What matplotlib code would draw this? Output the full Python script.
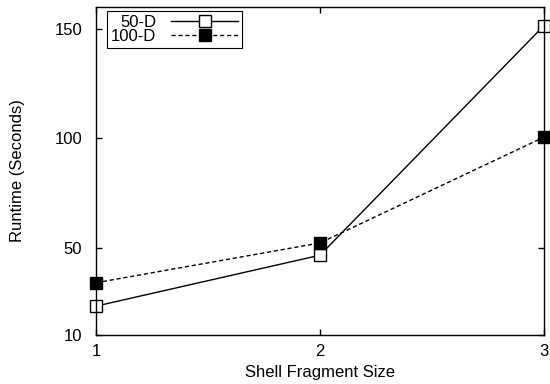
import matplotlib
matplotlib.use("Agg")
import matplotlib.pyplot as plt

x = [1, 2, 3]
series_50d = [23.2, 46.5, 151.5]
series_100d = [33.9, 52.1, 100.5]
yticks = [10, 50, 100, 150]
xticks = [1, 2, 3]

plt.rcParams['font.family'] = ['Liberation Sans', 'DejaVu Sans']
fig = plt.figure(figsize=(5.5, 3.84), dpi=100)
ax = fig.add_axes([96/550, 1-335/384, 448/550, 328/384])

ax.plot(x, series_50d, color='black', lw=1.0, marker='s', ms=8.5,
        mfc='white', mec='black', mew=1.0, label='50-D', clip_on=False)
ax.plot(x, series_100d, color='black', lw=1.0, ls=(0, (3, 2)), marker='s', ms=8.5,
        mfc='black', mec='black', label='100-D', clip_on=False)

ax.set_xlim(1, 3)
ax.set_ylim(10, 160)
ax.set_xticks(xticks)
ax.set_yticks(yticks)
ax.tick_params(direction='in', top=True, right=True, length=4, width=1,
               labelsize=12, colors='black')
ax.tick_params(axis='y', pad=10)
ax.tick_params(axis='x', pad=6.5)
for s in ax.spines.values():
    s.set_linewidth(1.0)
ax.set_xlabel('Shell Fragment Size', fontsize=12, labelpad=4)
ax.set_ylabel('Runtime (Seconds)', fontsize=12, labelpad=21)

leg = ax.legend(loc='upper left', bbox_to_anchor=(11/448, 1-4/328), markerfirst=False,
                frameon=True, fancybox=False, edgecolor='black', framealpha=1,
                fontsize=12, handlelength=4.0, handletextpad=0.9, borderpad=0.25,
                labelspacing=-0.08, borderaxespad=0)
leg.get_frame().set_linewidth(0.8)

fig.savefig('out.png', dpi=100)
